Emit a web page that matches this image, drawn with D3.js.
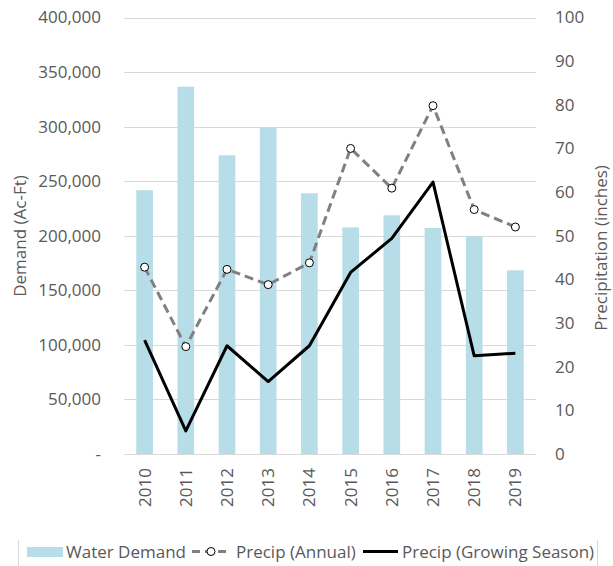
<!DOCTYPE html>
<html>
<head>
<meta charset="utf-8">
<script src="https://cdn.jsdelivr.net/npm/d3@7"></script>
<style>
  body { margin: 0; background: #fff; }
  text { font-family: "Open Sans", "Noto Sans", sans-serif; fill: #595959; }
</style>
</head>
<body>
<script>
// chart data
var years = ["2010","2011","2012","2013","2014","2015","2016","2017","2018","2019"];
var waterDemand = [241700, 336600, 273700, 299000, 238900, 207700, 218700, 207100, 199500, 168300];
var precipAnnual = [42.8, 24.6, 42.3, 38.8, 43.8, 70.0, 60.9, 79.8, 56.0, 52.0];
var precipGrowing = [26.1, 5.3, 24.8, 16.6, 24.8, 41.6, 49.4, 62.3, 22.5, 23.1];
var leftTicks = [0, 50000, 100000, 150000, 200000, 250000, 300000, 350000, 400000];
var rightTicks = [0, 10, 20, 30, 40, 50, 60, 70, 80, 90, 100];

var width = 613,
    height = 566;
var margin = {top: 17.5, right: 77, bottom: 112, left: 124};
var fontSize = "17px";

var svg = d3.select("body").append("svg")
    .attr("width", width)
    .attr("height", height);

// scales
var x = d3.scaleBand()
    .domain(years)
    .range([margin.left, width - margin.right])
    .paddingInner(0.595)
    .paddingOuter(0.2975);

var yL = d3.scaleLinear()
    .domain([0, 400000])
    .range([height - margin.bottom, margin.top]);

var yR = d3.scaleLinear()
    .domain([0, 100])
    .range([height - margin.bottom, margin.top]);

var cx = function(d) { return x(d) + x.bandwidth() / 2; };

// gridlines
svg.append("g")
  .selectAll("line")
  .data(leftTicks)
  .enter().append("line")
    .attr("x1", margin.left)
    .attr("x2", width - margin.right)
    .attr("y1", function(d) { return Math.round(yL(d)) + 0.5; })
    .attr("y2", function(d) { return Math.round(yL(d)) + 0.5; })
    .attr("stroke", "#d9d9d9")
    .attr("stroke-width", 1);

// bars
svg.append("g")
  .selectAll("rect")
  .data(years)
  .enter().append("rect")
    .attr("x", function(d) { return x(d); })
    .attr("width", x.bandwidth())
    .attr("y", function(d, i) { return yL(waterDemand[i]); })
    .attr("height", function(d, i) { return yL(0) - yL(waterDemand[i]); })
    .attr("fill", "#b7dde8");

// left axis
var leftAxis = d3.axisLeft(yL)
    .tickValues(leftTicks)
    .tickSize(0)
    .tickPadding(23)
    .tickFormat(function(d) { return d === 0 ? "-  " : d3.format(",")(d); });

svg.append("g")
    .attr("transform", "translate(" + margin.left + ",0)")
    .call(leftAxis)
    .call(function(g) { g.select(".domain").remove(); })
    .selectAll("text")
    .attr("font-size", fontSize)
    .style("font-family", "'Open Sans', sans-serif");

// right axis
var rightAxis = d3.axisRight(yR)
    .tickValues(rightTicks)
    .tickSize(0)
    .tickPadding(19);

svg.append("g")
    .attr("transform", "translate(" + (width - margin.right) + ",0)")
    .call(rightAxis)
    .call(function(g) { g.select(".domain").remove(); })
    .selectAll("text")
    .attr("font-size", fontSize)
    .style("font-family", "'Open Sans', sans-serif");

// x axis
var xAxis = d3.axisBottom(x).tickSize(0).tickPadding(0);
var gx = svg.append("g")
    .attr("transform", "translate(0," + (height - margin.bottom) + ")")
    .call(xAxis);
gx.select(".domain").remove();
gx.selectAll("text")
    .attr("font-size", fontSize)
    .style("font-family", "'Open Sans', sans-serif")
    .attr("text-anchor", "end")
    .attr("dy", "0.35em")
    .attr("transform", "translate(0,14) rotate(-90)")
    .attr("y", 0)
    .attr("x", 0);

svg.append("line")
    .attr("x1", margin.left)
    .attr("x2", width - margin.right)
    .attr("y1", Math.round(yL(0)) + 0.5)
    .attr("y2", Math.round(yL(0)) + 0.5)
    .attr("stroke", "#d9d9d9");

// axis titles
svg.append("text")
    .attr("transform", "translate(26,236) rotate(-90)")
    .attr("text-anchor", "middle")
    .attr("font-size", fontSize)
    .text("Demand (Ac-Ft)");

svg.append("text")
    .attr("transform", "translate(607,248) rotate(-90)")
    .attr("text-anchor", "middle")
    .attr("font-size", fontSize)
    .text("Precipitation (inches)");

// lines
var lineAnnual = d3.line()
    .x(function(d, i) { return cx(years[i]); })
    .y(function(d) { return yR(d); });

svg.append("path")
    .datum(precipAnnual)
    .attr("d", lineAnnual)
    .attr("fill", "none")
    .attr("stroke", "#808080")
    .attr("stroke-width", 3)
    .attr("stroke-dasharray", "9,5");

svg.append("path")
    .datum(precipGrowing)
    .attr("d", lineAnnual)
    .attr("fill", "none")
    .attr("stroke", "#000")
    .attr("stroke-width", 3)
    .attr("stroke-linejoin", "round");

svg.append("g")
  .selectAll("circle")
  .data(precipAnnual)
  .enter().append("circle")
    .attr("cx", function(d, i) { return cx(years[i]); })
    .attr("cy", function(d) { return yR(d); })
    .attr("r", 4)
    .attr("fill", "#fff")
    .attr("stroke", "#000")
    .attr("stroke-width", 1);

// legend
var legend = svg.append("g");
legend.append("path")
    .attr("d", "M18.5,540V566M597.5,540V566")
    .attr("stroke", "#d9d9d9");

legend.append("rect")
    .attr("x", 27).attr("y", 547)
    .attr("width", 36).attr("height", 10)
    .attr("fill", "#b7dde8");
legend.append("text")
    .attr("x", 66).attr("y", 557.5)
    .attr("font-size", fontSize)
    .text("Water Demand");

legend.append("line")
    .attr("x1", 192).attr("x2", 230)
    .attr("y1", 551.5).attr("y2", 551.5)
    .attr("stroke", "#808080").attr("stroke-width", 3)
    .attr("stroke-dasharray", "8,5");
legend.append("circle")
    .attr("cx", 211).attr("cy", 551.5).attr("r", 4)
    .attr("fill", "#fff").attr("stroke", "#000");
legend.append("text")
    .attr("x", 236).attr("y", 557.5)
    .attr("font-size", fontSize)
    .text("Precip (Annual)");

legend.append("line")
    .attr("x1", 363).attr("x2", 398)
    .attr("y1", 551.5).attr("y2", 551.5)
    .attr("stroke", "#000").attr("stroke-width", 3);
legend.append("text")
    .attr("x", 402).attr("y", 557.5)
    .attr("font-size", fontSize)
    .text("Precip (Growing Season)");
</script>
</body>
</html>
